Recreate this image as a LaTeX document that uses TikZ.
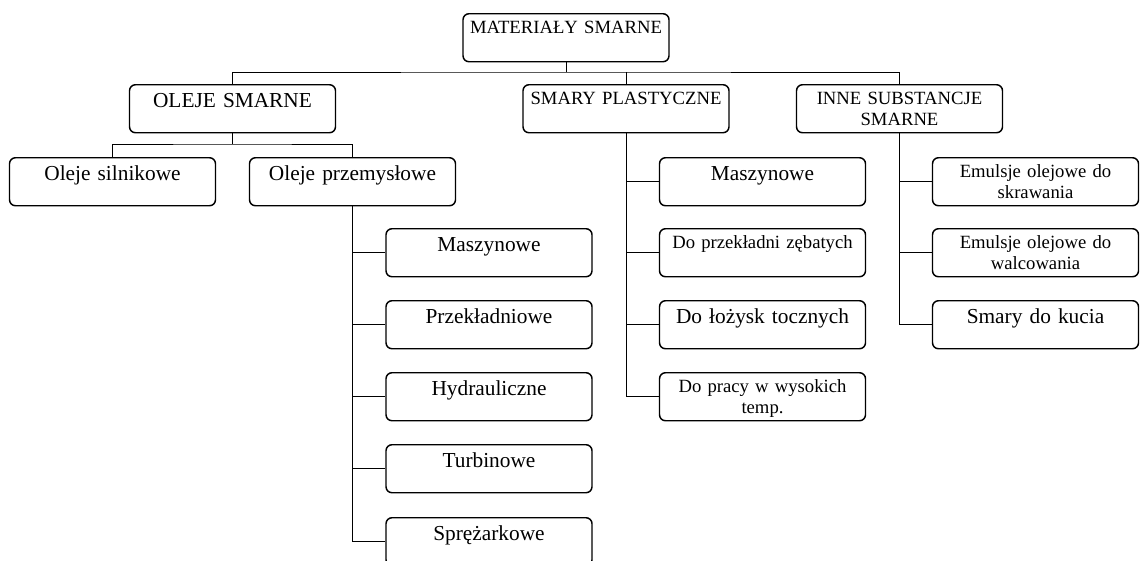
\documentclass[tikz,border=0pt]{standalone}
\usepackage{fontspec}
\setmainfont{Liberation Serif}

\tikzset{
  box/.style={draw, line width=1.1pt, rounded corners=4.5pt, inner sep=0pt,
    text width=154.5pt, align=center, anchor=north},
  big/.style={font=\fontsize{16}{18}\selectfont, text height=17.25pt, text depth=18.75pt},
  small/.style={font=\fontsize{14}{15.5}\selectfont, text height=15pt, text depth=21pt},
  link/.style={line width=0.75pt}
}

\begin{document}
\begin{tikzpicture}[x=0.75pt, y=-0.75pt]
    \useasboundingbox (0, 0) rectangle (1140, 561);

    \node [box, small] (mat) at (566, 13) {MATERIAŁY SMARNE};

    \node [box, big] (ole) at (232.5, 84) {OLEJE SMARNE};
    \node [box, small] (sma) at (626, 84) {SMARY PLASTYCZNE};
    \node [box, small] (inn) at (899.5, 84) {INNE SUBSTANCJE\\SMARNE};

    \node [box, big] (sil) at (112.5, 157) {Oleje silnikowe};
    \node [box, big] (prz) at (352.5, 157) {Oleje przemysłowe};

    \node [box, big] (pmasz) at (489, 228) {Maszynowe};
    \node [box, big] (pprzek) at (489, 300) {Przekładniowe};
    \node [box, big] (phydr) at (489, 372) {Hydrauliczne};
    \node [box, big] (pturb) at (489, 444) {Turbinowe};
    \node [box, big] (pspr) at (489, 517) {Sprężarkowe};

    \node [box, big] (smasz) at (762.5, 157) {Maszynowe};
    \node [box, small] (szeb) at (762.5, 228) {Do przekładni zębatych};
    \node [box, big] (slozy) at (762.5, 300) {Do łożysk tocznych};
    \node [box, small] (stemp) at (762.5, 372) {Do pracy w wysokich\\temp.};

    \node [box, small] (eskr) at (1035.5, 157) {Emulsje olejowe do\\skrawania};
    \node [box, small] (ewalc) at (1035.5, 228) {Emulsje olejowe do\\walcowania};
    \node [box, big] (kucie) at (1035.5, 300) {Smary do kucia};

    \coordinate (bus1) at (566, 72);
    \coordinate (bus2) at (232.5, 144);

    \draw [link] (mat.south) -- (bus1);
    \draw [link] (ole.north) |- (bus1) -| (inn.north);
    \draw [link] (sma.north) -- (sma.north |- bus1);

    \draw [link] (ole.south) -- (bus2);
    \draw [link] (sil.north) |- (bus2) -| (prz.north);

    \foreach \n in {pmasz, pprzek, phydr, pturb, pspr}
        \draw [link] (prz.south) |- (\n.west);
    \foreach \n in {smasz, szeb, slozy, stemp}
        \draw [link] (sma.south) |- (\n.west);
    \foreach \n in {eskr, ewalc, kucie}
        \draw [link] (inn.south) |- (\n.west);
\end{tikzpicture}
\end{document}
